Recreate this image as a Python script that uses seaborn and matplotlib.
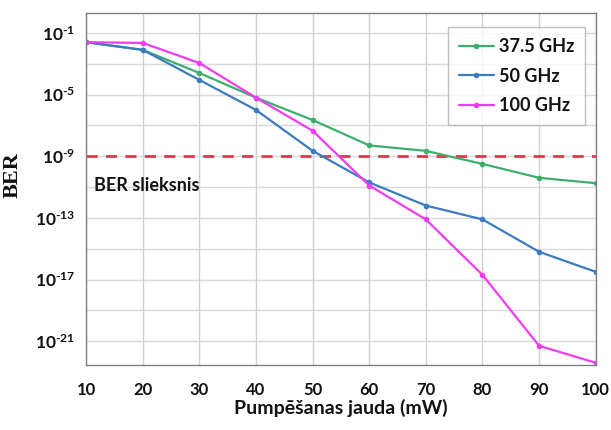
import numpy as np
import pandas as pd
import matplotlib
matplotlib.use("Agg")
import matplotlib.pyplot as plt
import seaborn as sns

power_mw = [10, 20, 30, 40, 50, 60, 70, 80, 90, 100]
ber_37_5 = [10**-1.6, 10**-2.1, 10**-3.6, 10**-5.2, 10**-6.65, 10**-8.3, 10**-8.65, 10**-9.5, 10**-10.4, 10**-10.75]
ber_50 = [10**-1.6, 10**-2.1, 10**-4.05, 10**-6.0, 10**-8.65, 10**-10.7, 10**-12.2, 10**-13.1, 10**-15.2, 10**-16.5]
ber_100 = [10**-1.6, 10**-1.65, 10**-2.95, 10**-5.2, 10**-7.35, 10**-10.9, 10**-13.1, 10**-16.7, 10**-21.3, 10**-22.4]
series_names = ["37.5 GHz", "50 GHz", "100 GHz"]
threshold = 1e-9
ytick_exps = [-1, -5, -9, -13, -17, -21]

sns.set_theme(style="white")
plt.rcParams["font.family"] = ["Lato", "DejaVu Sans"]
plt.rcParams["mathtext.fontset"] = "custom"
plt.rcParams["mathtext.bf"] = "Lato:bold"
plt.rcParams["mathtext.rm"] = "Lato:bold"

df = pd.DataFrame({
    "x": power_mw * 3,
    "ber": ber_37_5 + ber_50 + ber_100,
    "s": [series_names[0]] * 10 + [series_names[1]] * 10 + [series_names[2]] * 10,
})
palette = {"37.5 GHz": "#3dae6c", "50 GHz": "#3b7cc0", "100 GHz": "#f03cf0"}

fig = plt.figure(figsize=(6.11, 4.30), dpi=100)
ax = fig.add_axes([0.141, 0.151, 0.834, 0.819])

sns.lineplot(data=df, x="x", y="ber", hue="s", palette=palette, marker="o",
             markersize=4, markeredgewidth=0, linewidth=1.6, ax=ax,
             hue_order=series_names)
ax.set_yscale("log")
ax.set_xlim(10, 100)
ax.set_ylim(10**-22.55, 10**0.3)

ax.axhline(threshold, color="#f0304a", linestyle=(0, (4, 3)), linewidth=2, zorder=1)

W = "bold"
TXT = "#111111"
ax.set_xticks(power_mw)
ax.set_xticklabels([str(v) for v in power_mw], fontsize=12, fontweight=W, color=TXT)
ax.set_yticks([10.0**e for e in ytick_exps])
ax.set_yticklabels([r"$\mathbf{10^{\mathrm{\text{-}%d}}}$" % (-e) for e in ytick_exps],
                   fontsize=12.5, color=TXT)
ax.yaxis.set_minor_locator(matplotlib.ticker.NullLocator())

for e in range(-1, -23, -2):
    ax.axhline(10.0**e, color="#d9d9d9", linewidth=1, zorder=0)
for v in power_mw:
    ax.axvline(v, color="#d0d0d0", linewidth=1, zorder=0)
ax.tick_params(axis="x", length=0, pad=12)
ax.tick_params(axis="y", length=0, pad=8)

for sp in ax.spines.values():
    sp.set_color("#808080")
    sp.set_linewidth(1)

ax.set_xlabel("Pumpēšanas jauda (mW)", fontsize=14, fontweight=W, labelpad=1, color=TXT)
ax.set_ylabel("BER", fontsize=16, fontweight="bold", family="Liberation Serif", color=TXT)
ax.yaxis.set_label_coords(-0.125, 0.54)

ax.text(0.016, 0.51, "BER slieksnis", transform=ax.transAxes, fontsize=13,
        fontweight=W, ha="left", va="center", color=TXT)

leg = ax.legend(loc="upper right", bbox_to_anchor=(0.997, 0.985), frameon=True,
                fancybox=False, edgecolor="#b0b0b0",
                prop={"weight": W, "size": 13}, handlelength=1.9,
                borderpad=0.6, labelspacing=0.7, handletextpad=0.3, title=None)
leg.get_frame().set_linewidth(1)
for t in leg.get_texts():
    t.set_color(TXT)

fig.savefig("out.png", dpi=100)
